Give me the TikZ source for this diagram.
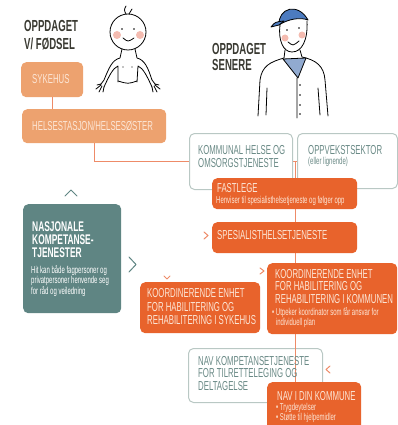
\documentclass[tikz,border=0pt]{standalone}
\usepackage{fontspec}
\newfontfamily\condfont[FakeStretch=0.6]{Liberation Sans}
\usetikzlibrary{positioning}
\definecolor{lightorange}{HTML}{EDA26F}
\definecolor{darkorange}{HTML}{E8632C}
\definecolor{tealfill}{HTML}{5F8583}
\definecolor{greyline}{HTML}{B9C8C4}
\definecolor{greytext}{HTML}{6A8A86}
\definecolor{linkorange}{HTML}{EE8B68}
\definecolor{capblue}{HTML}{4C7BC0}
\definecolor{scarfblue}{HTML}{91AAD0}
\definecolor{cheek}{HTML}{F4BBB0}
\definecolor{cream}{HTML}{FCE6D6}
\definecolor{inkdark}{HTML}{3A3A32}

\tikzset{
  box/.style={anchor=north west, rounded corners=5pt, inner sep=0pt},
  lightbox/.style={box, fill=lightorange},
  orangebox/.style={box, fill=darkorange},
  tealbox/.style={box, fill=tealfill},
  whitebox/.style={box, fill=white, draw=greyline, line width=1pt},
  boxtext/.style={anchor=west, inner sep=0pt, align=left, text=cream,
    font=\condfont\fontsize{13}{13.5}\selectfont},
  greybtext/.style={boxtext, text=greytext},
  smalltext/.style={boxtext, font=\condfont\fontsize{10}{10}\selectfont},
  headtext/.style={anchor=west, inner sep=0pt, align=left, text=inkdark,
    font=\condfont\bfseries\fontsize{16}{17.5}\selectfont},
  link/.style={draw=linkorange, line width=0.8pt},
  chevron/.style={line width=1pt, line cap=round, line join=round},
  ink/.style={line width=0.8pt, line cap=round, line join=round}
}

\begin{document}
\begin{tikzpicture}[x=1pt, y=-1pt]
    \useasboundingbox (0,0) rectangle (398,425);

    % headings
    \node[headtext] (birth) at (24,35) {OPPDAGET\\V/ FØDSEL};
    \node[headtext, font=\condfont\bfseries\fontsize{16}{16}\selectfont] (later) at (212,57) {OPPDAGET\\SENERE};

    % baby
    \draw[ink] (128,32) circle [radius=18pt];
    \draw[ink] (126,14) .. controls (124,10) .. (126,6) (129,14) -- (132,9);
    \fill[cheek] (117,35) circle [radius=4pt] (140,35) circle [radius=4pt];
    \fill (122,29) circle [radius=0.9pt] (134,29) circle [radius=0.9pt];
    \draw[ink] (123,38) .. controls (128,42) .. (134,38);
    \draw[ink] (122,49) -- (120,58) .. controls (112,60) and (109,68) .. (104,80) -- (101,84);
    \draw[ink] (135,49) -- (137,58) .. controls (145,60) and (148,68) .. (152,80) -- (155,84);
    \draw[ink] (104,87) .. controls (109,76) and (113,68) .. (118,66) -- (118,82);
    \draw[ink] (152,87) .. controls (147,76) and (143,68) .. (138,66) -- (137,82);
    \draw[ink] (118,81) .. controls (128,84) .. (137,81);
    \draw[ink] (101,84) -- (97,85) (101,85) -- (96,89) (102,86) -- (99,92) (104,87) -- (103,92);
    \draw[ink] (155,84) -- (159,85) (155,85) -- (160,89) (154,86) -- (157,92) (152,87) -- (153,92);
    \fill (123,67) circle [radius=0.7pt] (132,67) circle [radius=0.7pt];

    % man
    \draw[ink, fill=capblue] (279,25) .. controls (278,8) and (298,2) .. (308,20)
        .. controls (300,17) and (288,19) .. (279,25) -- cycle;
    \draw[ink, fill=capblue] (279,25) -- (271,27) .. controls (275,22) .. (284,21) -- cycle;
    \draw[ink] (280,25) .. controls (278,40) and (283,52) .. (292,52)
        .. controls (302,52) and (308,40) .. (307,21);
    \fill[cheek] (285,38) circle [radius=3.5pt] (302,35) circle [radius=3.5pt];
    \fill (287,30) circle [radius=0.9pt] (299,28) circle [radius=0.9pt];
    \draw[ink] (288,42) .. controls (293,46) .. (299,41);
    \draw[ink] (285,50) -- (284,58) (300,50) -- (302,57);
    \draw[ink, fill=scarfblue] (283,59) -- (306,58) -- (298,78) -- cycle;
    \draw[ink] (284,58) .. controls (270,62) and (262,66) .. (260,80) -- (258,116);
    \draw[ink] (302,57) .. controls (316,60) and (324,66) .. (325,80) -- (328,116);
    \draw[ink] (267,88) -- (266,115) (318,88) -- (320,115) (297,78) -- (297,118);
    \foreach \y in {85,95,105,114}
        \fill (300,\y) circle [radius=0.9pt];

    % boxes behind the spine
    \node[lightbox, minimum width=62pt, minimum height=35pt] (sykehus) at (21,62) {};
    \node[lightbox, minimum width=144pt, minimum height=34pt] (helse) at (22,109) {};
    \draw[link] (sykehus.south) -- (sykehus.south |- helse.north);
    \draw[link] (helse.south) |- (189,161);
    \draw[link] (292,161) -- (297,161);
    \node[whitebox, minimum width=103pt, minimum height=56pt] (kommunal) at (189,133) {};
    \node[whitebox, minimum width=100pt, minimum height=55pt] (oppvekst) at (297,133) {};
    \node[whitebox, minimum width=134pt, minimum height=54pt] (navkomp) at (188,348) {};
    \coordinate (hub) at (295,161);
    \coordinate (spineend) at (295,385);
    \draw[link] (hub) -- (spineend);

    % boxes on top
    \node[orangebox, minimum width=145pt, minimum height=31pt] (fastlege) at (212,178) {};
    \node[orangebox, minimum width=145pt, minimum height=31pt] (spesialist) at (212,222) {};
    \node[tealbox, minimum width=98pt, minimum height=109pt] (nasjonale) at (23,204) {};
    \node[orangebox, minimum width=120pt, minimum height=51pt] (koordsyk) at (140,282) {};
    \node[orangebox, minimum width=130pt, minimum height=71pt] (koordkom) at (267,263) {};
    \node[orangebox, minimum width=94pt, minimum height=50pt] (navkom) at (267,382) {};

    % texts
    \node[boxtext] (sykehus-t) at (32,79) {SYKEHUS};
    \node[boxtext] (helse-t) at (32,126) {HELSESTASJON/HELSESØSTER};
    \node[greybtext] (kommunal-t) at (198,156.5) {KOMMUNAL HELSE OG\\OMSORGSTJENESTE};
    \node[greybtext] (oppvekst-t) at (308,150) {OPPVEKSTSEKTOR};
    \node[smalltext, text=greytext] (oppvekst-s) at (308,161.5) {(eller lignende)};
    \node[boxtext] (fastlege-t) at (217,188.5) {FASTLEGE};
    \node[smalltext] (fastlege-s) at (216,200.5) {Henviser til spesialisthelsetjeneste og følger opp};
    \node[boxtext] (spesialist-t) at (217,235.5) {SPESIALISTHELSETJENESTE};
    \node[boxtext, text=white, font=\condfont\bfseries\fontsize{14}{13}\selectfont] (nasjonale-t) at (32,240) {NASJONALE\\KOMPETANSE-\\TJENESTER};
    \node[smalltext, text=white, font=\condfont\fontsize{10}{10}\selectfont] (nasjonale-s) at (31,281) {Hit kan både fagpersoner og\\privatpersoner henvende seg\\for råd og veiledning};
    \node[boxtext] (koordsyk-t) at (147,307) {KOORDINERENDE ENHET\\FOR HABILITERING OG\\REHABILITERING I SYKEHUS};
    \node[boxtext, font=\condfont\fontsize{13}{12.5}\selectfont] (koordkom-t) at (275,286.5) {KOORDINERENDE ENHET\\FOR HABILITERING OG\\REHABILITERING I KOMMUNEN};
    \node[smalltext] (koordkom-s) at (272,318) {• Utpeker koordinator som får ansvar for\\\phantom{• }individuell plan};
    \node[greybtext, font=\condfont\fontsize{13}{12.5}\selectfont] (navkomp-t) at (198,373.5) {NAV KOMPETANSETJENESTE\\FOR TILRETTELEGING OG\\DELTAGELSE};
    \node[boxtext] (navkom-t) at (277,396) {NAV I DIN KOMMUNE};
    \node[smalltext] (navkom-s) at (276,413) {• Trygdeytelser\\• Støtte til hjelpemidler};

    % chevrons
    \draw[chevron, tealfill] (65,196) -- (71,190) -- (77,196);
    \draw[chevron, tealfill] (129,257) -- (136,264.5) -- (129,272);
    \draw[chevron, linkorange] (164,276) -- (167,279) -- (170,276);
    \draw[chevron, linkorange] (260,268) -- (264,271) -- (260,274);
    \draw[chevron, linkorange] (204,232) -- (208,235.5) -- (204,239);
    \draw[chevron, linkorange] (330,366) -- (326,369.5) -- (330,373);
\end{tikzpicture}
\end{document}
